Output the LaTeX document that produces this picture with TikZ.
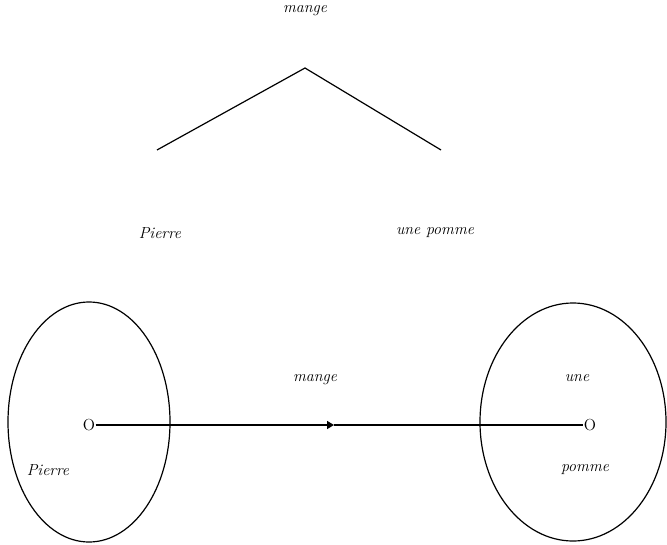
\documentclass[tikz,border=0pt]{standalone}
\usepackage{tikz}
\usetikzlibrary{positioning,arrows.meta}
\tikzset{
  lbl/.style={font=\large\itshape,inner sep=1pt},
  pt/.style={font=\large,inner sep=0pt}
}

\begin{document}
\begin{tikzpicture}[>=Triangle,x=0.75pt,y=0.75pt,line width=0.9pt]
  \useasboundingbox (0,0) rectangle (667,544);
  % tree
  \node[lbl] (top) at (305,533) {mange};
  \coordinate (apex) at (305,476);
  \coordinate (lft) at (157,394);
  \coordinate (rgt) at (441,394);
  \draw (lft) -- (apex) -- (rgt);
  \node[lbl] (subj) at (160,311) {Pierre};
  \node[lbl] (obj) at (435,311) {une pomme};
  % sets
  \draw (89,122) ellipse [x radius=81, y radius=120];
  \draw (573,122) ellipse [x radius=93, y radius=119];
  \node[pt] (oL) at (89,119) {O};
  \node[pt] (oR) at (590,119) {O};
  \coordinate (mid) at (334,119);
  \draw[->] (oL) -- (mid);
  \draw (mid) -- (oR);
  \node[lbl] (verb) at (315,164) {mange};
  \node[lbl] (p) at (48,74) {Pierre};
  \node[lbl] (u) at (577,166) {une};
  \node[lbl] (pm) at (585,74) {pomme};
\end{tikzpicture}
\end{document}
